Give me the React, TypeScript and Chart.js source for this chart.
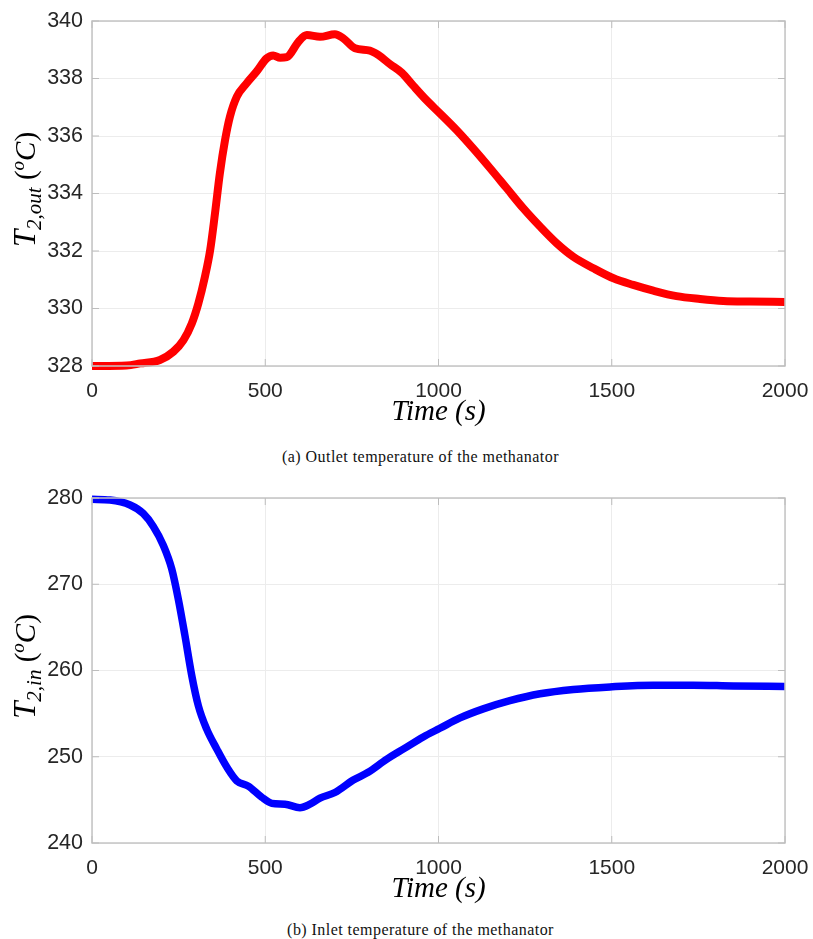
import React, { useEffect, useRef } from "react";
import { Chart, registerables } from "chart.js";
Chart.register(...registerables);

// (a) Outlet temperature of the methanator
const timeOut = [0, 100, 139, 196, 235, 264, 288, 307, 326, 341, 355, 369, 384, 398, 418, 446, 475, 504, 523, 543, 562, 596, 620, 658, 701, 725, 759, 802, 826, 860, 894, 927, 961, 1004, 1052, 1100, 1149, 1197, 1245, 1293, 1341, 1389, 1447, 1505, 1562, 1620, 1687, 1755, 1822, 1899, 2000];
const tempOut = [328.0, 328.02, 328.09, 328.21, 328.5, 328.9, 329.48, 330.18, 331.11, 332.03, 333.31, 334.7, 335.86, 336.67, 337.37, 337.83, 338.24, 338.7, 338.8, 338.72, 338.74, 339.28, 339.51, 339.45, 339.54, 339.4, 339.05, 338.97, 338.82, 338.5, 338.2, 337.75, 337.3, 336.79, 336.21, 335.57, 334.88, 334.18, 333.48, 332.85, 332.27, 331.8, 331.4, 331.05, 330.82, 330.62, 330.43, 330.33, 330.26, 330.24, 330.23];

// (b) Inlet temperature of the methanator
const timeIn = [0, 52, 110, 148, 177, 206, 230, 249, 268, 288, 307, 331, 360, 389, 418, 451, 490, 519, 557, 600, 629, 658, 701, 754, 797, 850, 903, 956, 1004, 1062, 1129, 1206, 1293, 1389, 1495, 1620, 1735, 1851, 2000];
const tempIn = [279.85, 279.77, 279.19, 278.2, 276.7, 274.5, 271.8, 268.3, 264.1, 259.4, 255.9, 253.2, 250.9, 248.8, 247.2, 246.6, 245.3, 244.6, 244.5, 244.1, 244.5, 245.2, 245.85, 247.3, 248.2, 249.7, 251.0, 252.3, 253.3, 254.5, 255.55, 256.5, 257.3, 257.8, 258.1, 258.3, 258.3, 258.2, 258.15];

const xTicks = [0, 500, 1000, 1500, 2000];
const yTicksOut = [328, 330, 332, 334, 336, 338, 340];
const yTicksIn = [240, 250, 260, 270, 280];

const TICK_COLOR = "#262626";
const GRID_COLOR = "#ececec";
const BOX_COLOR = "#c4c4c4";
const SERIF = "'Liberation Serif', 'DejaVu Serif', serif";
const SANS = "'Liberation Sans', Arial, sans-serif";

type Seg = { t: string; size: number; italic: boolean; dy: number };

function makeYLabelPlugin(segs: Seg[]) {
  return {
    id: "yLabelRich",
    afterDraw(chart: any) {
      const ctx = chart.ctx;
      const area = chart.chartArea;
      ctx.save();
      const cy = (area.top + area.bottom) / 2 - 4;
      ctx.translate(35, cy);
      ctx.rotate(-Math.PI / 2);
      let total = 0;
      const widths: number[] = [];
      for (const s of segs) {
        ctx.font = `${s.italic ? "italic " : ""}${s.size}px ${SERIF}`;
        const w = ctx.measureText(s.t).width;
        widths.push(w);
        total += w;
      }
      let x = -total / 2;
      ctx.fillStyle = "#000";
      ctx.textBaseline = "alphabetic";
      ctx.textAlign = "left";
      segs.forEach((s, i) => {
        ctx.font = `${s.italic ? "italic " : ""}${s.size}px ${SERIF}`;
        ctx.fillText(s.t, x, s.dy);
        x += widths[i];
      });
      ctx.restore();
    },
  };
}

const boxPlugin = {
  id: "boxFrame",
  afterDraw(chart: any) {
    const { ctx, chartArea: a } = chart;
    ctx.save();
    ctx.strokeStyle = BOX_COLOR;
    ctx.lineWidth = 1.5;
    ctx.strokeRect(a.left, a.top, a.right - a.left, a.bottom - a.top);
    ctx.lineWidth = 1;
    ctx.strokeStyle = "#bdbdbd";
    const ys = chart.scales.y;
    const xs = chart.scales.x;
    ys.ticks.forEach((t: any) => {
      const py = ys.getPixelForValue(t.value);
      ctx.beginPath();
      ctx.moveTo(a.left, py);
      ctx.lineTo(a.left + 7, py);
      ctx.moveTo(a.right, py);
      ctx.lineTo(a.right - 7, py);
      ctx.stroke();
    });
    xs.ticks.forEach((t: any) => {
      const px = xs.getPixelForValue(t.value);
      ctx.beginPath();
      ctx.moveTo(px, a.bottom);
      ctx.lineTo(px, a.bottom - 7);
      ctx.moveTo(px, a.top);
      ctx.lineTo(px, a.top + 7);
      ctx.stroke();
    });
    ctx.restore();
  },
};

function buildChart(
  canvas: HTMLCanvasElement,
  xs: number[],
  ys: number[],
  color: string,
  width: number,
  yMin: number,
  yMax: number,
  yTicks: number[],
  labelSegs: Seg[]
) {
  const points = xs.map((x, i) => ({ x, y: ys[i] }));
  return new Chart(canvas, {
    type: "line",
    data: {
      datasets: [
        {
          data: points,
          borderColor: color,
          backgroundColor: color,
          borderWidth: width,
          pointRadius: 0,
          cubicInterpolationMode: "monotone",
          fill: false,
          clip: 12,
          borderCapStyle: "butt",
          borderJoinStyle: "round",
        },
      ],
    },
    options: {
      animation: false,
      responsive: false,
      maintainAspectRatio: false,
      events: [],
      layout: { padding: { top: 21, right: 28, left: 0, bottom: 0 } },
      plugins: { legend: { display: false }, tooltip: { enabled: false }, title: { display: false } },
      scales: {
        x: {
          type: "linear",
          min: 0,
          max: 2000,
          afterBuildTicks: (s: any) => {
            s.ticks = xTicks.map((v) => ({ value: v }));
          },
          afterFit: (s: any) => {
            s.height = 64;
            s.paddingLeft = 0;
            s.paddingRight = 0;
          },
          ticks: {
            color: TICK_COLOR,
            font: { family: SANS, size: 21 },
            padding: 13,
            maxRotation: 0,
            autoSkip: false,
            callback: (v: any) => String(v),
          },
          grid: { color: GRID_COLOR, drawTicks: false, lineWidth: 1 },
          border: { display: false },
          title: {
            display: true,
            text: "Time (s)",
            color: "#000",
            font: { family: SERIF, size: 29, style: "italic" },
            padding: { top: 0, bottom: 0 },
          },
        },
        y: {
          type: "linear",
          min: yMin,
          max: yMax,
          afterBuildTicks: (s: any) => {
            s.ticks = yTicks.map((v) => ({ value: v }));
          },
          afterFit: (s: any) => {
            s.width = 92;
            s.paddingTop = 0;
            s.paddingBottom = 0;
          },
          ticks: {
            color: TICK_COLOR,
            font: { family: SANS, size: 21.5 },
            padding: 9,
            autoSkip: false,
            callback: (v: any) => String(v),
          },
          grid: { color: GRID_COLOR, drawTicks: false, lineWidth: 1 },
          border: { display: false },
        },
      },
    },
    plugins: [boxPlugin, makeYLabelPlugin(labelSegs)],
  } as any);
}

const segsOut: Seg[] = [
  { t: "T", size: 31, italic: true, dy: 0 },
  { t: "2,out", size: 21, italic: true, dy: 6 },
  { t: " (", size: 29, italic: false, dy: 0 },
  { t: "o", size: 19, italic: true, dy: -11 },
  { t: "C", size: 29, italic: true, dy: 0 },
  { t: ")", size: 29, italic: false, dy: 0 },
];
const segsIn: Seg[] = [
  { t: "T", size: 31, italic: true, dy: 0 },
  { t: "2,in", size: 21, italic: true, dy: 6 },
  { t: " (", size: 29, italic: false, dy: 0 },
  { t: "o", size: 19, italic: true, dy: -11 },
  { t: "C", size: 29, italic: true, dy: 0 },
  { t: ")", size: 29, italic: false, dy: 0 },
];

export default function App() {
  const ref1 = useRef<HTMLCanvasElement>(null);
  const ref2 = useRef<HTMLCanvasElement>(null);

  useEffect(() => {
    const c1 = buildChart(ref1.current!, timeOut, tempOut, "#ff0000", 8, 328, 340, yTicksOut, segsOut);
    const c2 = buildChart(ref2.current!, timeIn, tempIn, "#0000ff", 7.5, 240, 280, yTicksIn, segsIn);
    return () => {
      c1.destroy();
      c2.destroy();
    };
  }, []);

  const captionStyle: React.CSSProperties = {
    position: "absolute",
    left: 28,
    width: 785,
    textAlign: "center",
    fontFamily: SERIF,
    fontSize: 16,
    lineHeight: "18px",
    color: "#111",
    letterSpacing: "0.45px",
    whiteSpace: "nowrap",
  };

  return (
    <div style={{ position: "absolute", left: 0, top: 0, width: 813, height: 939, background: "#fff", overflow: "hidden" }}>
      <canvas ref={ref1} width={813} height={430} style={{ position: "absolute", left: 0, top: 0, width: 813, height: 430 }} />
      <div style={{ ...captionStyle, top: 448 }}>(a) Outlet temperature of the methanator</div>
      <canvas ref={ref2} width={813} height={430} style={{ position: "absolute", left: 0, top: 477, width: 813, height: 430 }} />
      <div style={{ ...captionStyle, top: 921 }}>(b) Inlet temperature of the methanator</div>
    </div>
  );
}
